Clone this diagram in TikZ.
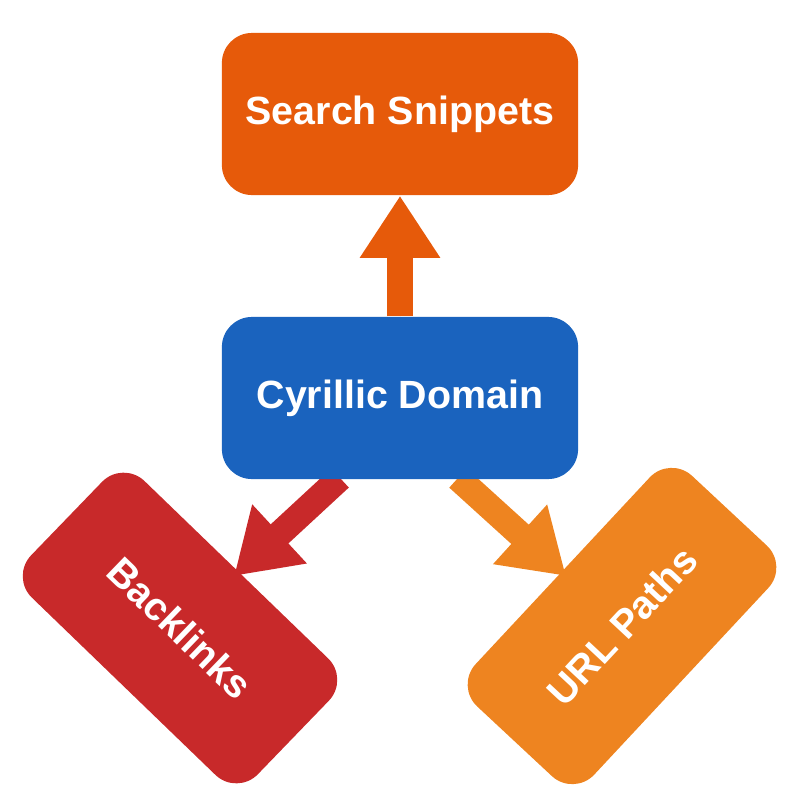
\documentclass[tikz,border=0pt]{standalone}
\usepackage{fontspec}
\setmainfont{Liberation Sans}
\usetikzlibrary{arrows.meta}
\definecolor{snipc}{HTML}{E65A0A}
\definecolor{domc}{HTML}{1A63BE}
\definecolor{backc}{HTML}{C8292A}
\definecolor{urlc}{HTML}{EE8420}
\tikzset{
  box/.style = {rectangle, rounded corners=3mm, minimum width=3.56cm, minimum height=1.62cm, text=white, font=\fontsize{11.2}{14}\bfseries, align=center},
  arrow/.style = {line width=0.26cm, -{Triangle[length=0.62cm, width=0.76cm]}}
}
\begin{document}
\begin{tikzpicture}[x=0.01cm, y=-0.01cm]
    \useasboundingbox (0,0) rectangle (800,800);
    \coordinate(bl_start) at (340,478);
    \coordinate(bl_tip) at (234,576);
    \coordinate(url_start) at (458,478);
    \coordinate(url_tip) at (566,576);
    \draw[arrow, draw=backc, fill=backc] (bl_start) -- (bl_tip);
    \draw[arrow, draw=urlc, fill=urlc] (url_start) -- (url_tip);
    \node(snippets)[box, fill=snipc] at (400,114) {Search Snippets};
    \node(domain)[box, fill=domc] at (400,398) {Cyrillic Domain};
    \node(backlinks)[box, fill=backc, minimum width=3.15cm, rotate=-44] at (180,628) {Backlinks};
    \node(urls)[box, fill=urlc, minimum width=3.15cm, rotate=47] at (622,626) {URL Paths};
    \draw[arrow, draw=snipc, fill=snipc] (domain.north) -- (snippets.south);
\end{tikzpicture}
\end{document}
